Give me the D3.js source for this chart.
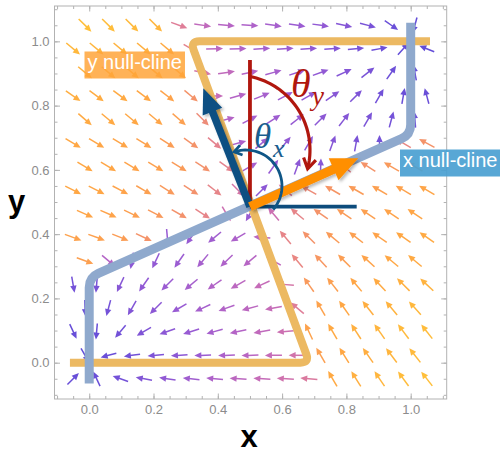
<!DOCTYPE html>
<html lang="en">
<head>
<meta charset="UTF-8">
<title>null-clines</title>
<script src="https://cdn.jsdelivr.net/npm/d3@7"></script>
<style>
  html, body { margin: 0; padding: 0; background: #fff; }
  svg { display: block; font-family: "Liberation Sans", Arial, sans-serif; }
</style>
</head>
<body>
<svg id="chart" width="500" height="454"></svg>
<script>
// arrow grid (staggered rows)
const rowY = [1.05, 0.977, 0.903, 0.830, 0.757, 0.683, 0.610, 0.537, 0.463, 0.390, 0.317, 0.243, 0.170, 0.097, 0.023, -0.050];
const xEven = [-0.013, 0.060, 0.133, 0.207, 0.280, 0.353, 0.427, 0.500, 0.573, 0.647, 0.720, 0.793, 0.867, 0.940, 1.013];
const xOdd = [-0.050, 0.023, 0.097, 0.170, 0.243, 0.317, 0.390, 0.463, 0.537, 0.610, 0.683, 0.757, 0.830, 0.903, 0.977, 1.050];

// arrow direction in degrees (0 = right, 90 = up), one row per rowY
const angleRows = [
  [-45,-45,-45,-45,-20,-8,-5,-3,-8,-8,-8,-12,-15,-35,-105],
  [-40,-40,-40,-40,-40,-30,2,2,3,3,3,4,6,10,48,158],
  [-40,-40,-40,-40,-40,-12,8,12,15,18,20,25,38,55,100],
  [-35,-37,-37,-37,-38,-40,0,15,22,28,30,35,45,60,80,105],
  [-41,-40,-40,-40,-41,-45,15,28,33,38,45,52,60,75,95],
  [-31,-31,-31,-32,-33,-35,-40,15,40,50,60,70,80,90,150,152],
  [-31,-31,-31,-31,-32,-33,-36,30,55,70,88,140,148,150,150],
  [-27,-27,-28,-30,-32,-33,-38,-45,45,140,150,150,150,150,150,150],
  [-24,-24,-26,-28,-30,-33,-60,-120,130,140,145,146,146,146,146],
  [-20,-20,-22,-25,-85,-125,-140,-150,175,130,135,140,142,145,145,145],
  [-20,-40,-100,-115,-125,-130,-136,-140,150,130,133,135,138,140,140],
  [-80,-95,-115,-125,-135,-140,-145,-150,-155,175,125,128,130,133,135,137],
  [-88,-105,-120,-135,-150,-155,-160,-165,-170,140,120,125,128,130,132],
  [-65,-95,-130,-150,-160,-163,-165,-168,-170,-175,115,120,123,125,127,128],
  [-60,-165,-172,-175,-177,-178,-178,-178,-179,180,120,122,125,127,128],
  [45,115,160,170,172,174,175,176,176,176,175,120,122,124,126,128]
];

// relative speed (0 = slow / purple, 1 = fast / yellow)
const normRows = [
  [1,0.99,0.97,0.95,0.62,0.5,0.46,0.43,0.4,0.36,0.32,0.27,0.22,0.12,0.06],
  [0.96,0.95,0.93,0.91,0.88,0.64,0.48,0.44,0.4,0.36,0.32,0.27,0.22,0.15,0.06,0.06],
  [0.93,0.92,0.9,0.88,0.84,0.58,0.5,0.45,0.4,0.36,0.32,0.27,0.22,0.14,0.08],
  [0.9,0.89,0.88,0.86,0.83,0.72,0.52,0.45,0.4,0.36,0.32,0.28,0.24,0.18,0.12,0.12],
  [0.88,0.87,0.86,0.84,0.8,0.68,0.45,0.4,0.37,0.34,0.3,0.27,0.23,0.2,0.16],
  [0.86,0.85,0.84,0.82,0.78,0.72,0.64,0.42,0.36,0.33,0.3,0.27,0.23,0.2,0.66,0.72],
  [0.86,0.85,0.83,0.81,0.77,0.71,0.64,0.4,0.34,0.3,0.28,0.64,0.72,0.76,0.8],
  [0.86,0.85,0.83,0.8,0.76,0.71,0.65,0.58,0.3,0.6,0.68,0.73,0.77,0.8,0.82,0.84],
  [0.84,0.83,0.8,0.76,0.71,0.65,0.55,0.35,0.55,0.65,0.72,0.77,0.8,0.83,0.85],
  [0.82,0.81,0.78,0.72,0.35,0.35,0.38,0.42,0.48,0.65,0.72,0.77,0.8,0.83,0.86,0.88],
  [0.8,0.45,0.3,0.33,0.36,0.4,0.43,0.46,0.5,0.66,0.74,0.79,0.83,0.86,0.88],
  [0.2,0.22,0.28,0.32,0.36,0.4,0.44,0.48,0.52,0.58,0.76,0.8,0.85,0.88,0.91,0.93],
  [0.12,0.2,0.26,0.3,0.35,0.4,0.44,0.48,0.52,0.62,0.82,0.86,0.9,0.93,0.96],
  [0.1,0.1,0.18,0.25,0.3,0.35,0.4,0.45,0.5,0.55,0.82,0.87,0.91,0.94,0.97,0.98],
  [0.05,0.12,0.18,0.24,0.3,0.36,0.42,0.47,0.52,0.57,0.8,0.86,0.9,0.94,0.97],
  [0.1,0.12,0.2,0.26,0.32,0.38,0.43,0.48,0.52,0.56,0.6,0.87,0.91,0.95,0.98,1.0]
];

// null-clines
const xNullcline = [[0, -0.065], [0, 0.265], [1, 0.71], [1, 1.058]];
const yNullcline = [[-0.06, 0], [0.685, 0], [0.315, 1], [1.06, 1]];

// annotation geometry (data units)
const origin = [0.5, 0.4855];
const redTop = 0.942;
const navyEnd = 0.832;
const blueTip = [0.3547, 0.8538];
const orangeTip = [0.837, 0.636];
const thetaXArc = {c: [0.4876, 0.5498], r: 0.112, a0: -41, a1: 106};
const thetaYArc = {c: [0.4533, 0.662], r: 0.2334, a0: 78, a1: -13};

const majorTicks = [0, 0.2, 0.4, 0.6, 0.8, 1.0];
const minorTicks = [-0.1, -0.05, 0, 0.05, 0.1, 0.15, 0.2, 0.25, 0.3, 0.35, 0.4, 0.45, 0.5, 0.55, 0.6, 0.65, 0.7, 0.75, 0.8, 0.85, 0.9, 0.95, 1.0, 1.05, 1.1];

const svg = d3.select("#chart");
const x = d3.scaleLinear().domain([-0.108, 1.112]).range([54.5, 446.7]);
const y = d3.scaleLinear().domain([-0.113, 1.11]).range([399, 6]);
const pxPerUnit = x(1) - x(0);

const color = d3.scaleLinear()
  .domain([0, 0.2, 0.35, 0.45, 0.55, 0.62, 0.7, 0.78, 0.86, 1])
  .range(["#5b4bd8", "#7452d8", "#985bd3", "#b464c6", "#cc70b2", "#df7e98", "#f2906f", "#fb9d55", "#ffa744", "#ffbf3a"]);

// frame + ticks
function tickAxis(axisFn, pos, vals, size, labels) {
  const a = axisFn.tickValues(vals).tickSize(size).tickPadding(6);
  if (!labels) a.tickFormat("");
  else a.tickFormat(d3.format(".1f"));
  const g = svg.append("g").attr("transform", pos).call(a);
  g.select(".domain").remove();
  g.selectAll("line").attr("stroke", "#b2b2b2");
  g.selectAll("text").attr("fill", "#8c8c8c").style("font-size", "13px")
    .style("font-family", "'Liberation Sans', Arial, sans-serif");
  return g;
}
tickAxis(d3.axisBottom(x), "translate(0,399)", minorTicks, -3, false);
tickAxis(d3.axisBottom(x), "translate(0,399)", majorTicks, -5.5, true);
tickAxis(d3.axisTop(x), "translate(0,6)", minorTicks, -3, false);
tickAxis(d3.axisTop(x), "translate(0,6)", majorTicks, -5.5, false);
tickAxis(d3.axisLeft(y), "translate(54.5,0)", minorTicks, -3, false);
tickAxis(d3.axisLeft(y), "translate(54.5,0)", majorTicks, -5.5, true)
  .selectAll("text").attr("x", -5);
tickAxis(d3.axisRight(y), "translate(446.7,0)", minorTicks, -3, false);
tickAxis(d3.axisRight(y), "translate(446.7,0)", majorTicks, -5.5, false);

svg.append("rect")
  .attr("x", 54.5).attr("y", 6)
  .attr("width", 446.7 - 54.5).attr("height", 399 - 6)
  .attr("fill", "none").attr("stroke", "#b2b2b2").attr("stroke-width", 1);

// vector field arrows
const arrows = [];
rowY.forEach((yv, j) => {
  const xs = j % 2 === 0 ? xEven : xOdd;
  xs.forEach((xv, k) => {
    arrows.push({x: xv, y: yv, a: angleRows[j][k], m: normRows[j][k]});
  });
});

const field = svg.append("g");
arrows.forEach(d => {
  const cx = x(d.x), cy = y(d.y);
  const t = d.a * Math.PI / 180;
  const ux = Math.cos(t), uy = -Math.sin(t);
  const L = 16 + 2 * d.m, h = 7, w = 3.2;
  const x0 = cx - ux * L / 2, y0 = cy - uy * L / 2;
  const x1 = cx + ux * L / 2, y1 = cy + uy * L / 2;
  const bx = x1 - ux * h, by = y1 - uy * h;
  const c = color(d.m);
  field.append("line")
    .attr("x1", x0).attr("y1", y0).attr("x2", bx + ux).attr("y2", by + uy)
    .attr("stroke", c).attr("stroke-width", 1.5);
  field.append("path")
    .attr("d", `M${x1},${y1}L${bx - uy * w},${by + ux * w}L${bx + uy * w},${by - ux * w}Z`)
    .attr("fill", c);
});

// polyline with softened corners
function roundedPath(pts, r) {
  const p = pts.map(d => [x(d[0]), y(d[1])]);
  let s = `M${p[0][0]},${p[0][1]}`;
  for (let i = 1; i < p.length - 1; i++) {
    const a = p[i - 1], c = p[i], b = p[i + 1];
    const la = Math.hypot(c[0] - a[0], c[1] - a[1]), lb = Math.hypot(b[0] - c[0], b[1] - c[1]);
    const s0 = [c[0] - (c[0] - a[0]) * r / la, c[1] - (c[1] - a[1]) * r / la];
    const s1 = [c[0] + (b[0] - c[0]) * r / lb, c[1] + (b[1] - c[1]) * r / lb];
    s += `L${s0[0]},${s0[1]}Q${c[0]},${c[1]} ${s1[0]},${s1[1]}`;
  }
  const e = p[p.length - 1];
  return s + `L${e[0]},${e[1]}`;
}

// null-cline curves
svg.append("path").attr("d", roundedPath(yNullcline, 9))
  .attr("fill", "none").attr("stroke", "#ecb962").attr("stroke-width", 8)
  .attr("stroke-linejoin", "round");
svg.append("path").attr("d", roundedPath(xNullcline, 10))
  .attr("fill", "none").attr("stroke", "#8fa9cd").attr("stroke-width", 9)
  .attr("stroke-linejoin", "round");

// drop shadow for the big arrows
const defs = svg.append("defs");
defs.append("filter").attr("id", "shadow").attr("x", "-30%").attr("y", "-30%")
  .attr("width", "160%").attr("height", "160%")
  .append("feDropShadow").attr("dx", 2).attr("dy", 2).attr("stdDeviation", 1.8)
  .attr("flood-color", "#000").attr("flood-opacity", 0.28);

// red vertical and navy horizontal reference lines
svg.append("line")
  .attr("x1", x(origin[0])).attr("y1", y(origin[1]))
  .attr("x2", x(origin[0])).attr("y2", y(redTop))
  .attr("stroke", "#b0170e").attr("stroke-width", 3.8);
svg.append("line")
  .attr("x1", x(origin[0])).attr("y1", y(origin[1]))
  .attr("x2", x(navyEnd)).attr("y2", y(origin[1]))
  .attr("stroke", "#0d4c7c").attr("stroke-width", 3.8);

function bigArrow(tip, col, shaft, headLen, headW) {
  const x0 = x(origin[0]), y0 = y(origin[1]);
  const x1 = x(tip[0]), y1 = y(tip[1]);
  const len = Math.hypot(x1 - x0, y1 - y0);
  const ux = (x1 - x0) / len, uy = (y1 - y0) / len;
  const bx = x1 - ux * headLen, by = y1 - uy * headLen;
  const g = svg.append("g").attr("filter", "url(#shadow)");
  g.append("line").attr("x1", x0).attr("y1", y0).attr("x2", bx + ux).attr("y2", by + uy)
    .attr("stroke", col).attr("stroke-width", shaft);
  g.append("path")
    .attr("d", `M${x1},${y1}L${bx - uy * headW / 2},${by + ux * headW / 2}L${bx + uy * headW / 2},${by - ux * headW / 2}Z`)
    .attr("fill", col);
}
bigArrow(blueTip, "#0c4f82", 7.5, 25, 21);
bigArrow(orangeTip, "#ff8f00", 9, 27, 24);

// angle arcs with arrow heads
function arcArrow(arc, col, width, headLen, headAng) {
  const cx = x(arc.c[0]), cy = y(arc.c[1]), r = arc.r * pxPerUnit;
  const n = 40;
  const pts = d3.range(n + 1).map(i => {
    const a = (arc.a0 + (arc.a1 - arc.a0) * i / n) * Math.PI / 180;
    return [cx + r * Math.cos(a), cy - r * Math.sin(a)];
  });
  svg.append("path").attr("d", d3.line()(pts))
    .attr("fill", "none").attr("stroke", col).attr("stroke-width", width);
  const e = pts[n], p = pts[n - 1];
  const dir = Math.atan2(e[1] - p[1], e[0] - p[0]);
  const tip = [e[0] + Math.cos(dir) * 2, e[1] + Math.sin(dir) * 2];
  const wing = s => [tip[0] - headLen * Math.cos(dir + s * headAng), tip[1] - headLen * Math.sin(dir + s * headAng)];
  svg.append("path").attr("d", d3.line()([wing(1), tip, wing(-1)]))
    .attr("fill", "none").attr("stroke", col).attr("stroke-width", width)
    .attr("stroke-linejoin", "miter");
}
arcArrow(thetaXArc, "#0f5686", 2.8, 9, 0.6);
arcArrow(thetaYArc, "#b0170e", 3.2, 12, 0.55);

// theta labels
const serif = "'Liberation Serif', 'Times New Roman', serif";
svg.append("text").attr("x", 291).attr("y", 97).text("θ")
  .attr("font-family", serif).attr("font-style", "italic").attr("font-size", 40).attr("fill", "#b0170e");
svg.append("text").attr("x", 312).attr("y", 105).text("y")
  .attr("font-family", serif).attr("font-style", "italic").attr("font-size", 27).attr("fill", "#b0170e");
svg.append("text").attr("x", 254).attr("y", 148).text("θ")
  .attr("font-family", serif).attr("font-style", "italic").attr("font-size", 35).attr("fill", "#1a5e8e");
svg.append("text").attr("x", 273).attr("y", 157).text("x")
  .attr("font-family", serif).attr("font-style", "italic").attr("font-size", 26).attr("fill", "#1a5e8e");

// null-cline labels
function tag(txt, tx, ty, bg, op) {
  const g = svg.append("g");
  const r = g.append("rect").attr("fill", bg).attr("opacity", op);
  const t = g.append("text").attr("x", tx).attr("y", ty).text(txt)
    .attr("fill", "#fff").attr("font-size", 20);
  const b = t.node().getBBox();
  r.attr("x", b.x - 3).attr("y", b.y + 1).attr("width", b.width + 6).attr("height", b.height + 5);
}
tag("y null-cline", 87.5, 68.5, "#ffa53a", 0.85);
tag("x null-cline", 403, 166.5, "#4a9fd1", 0.92);

// axis titles
svg.append("text").attr("x", 16.5).attr("y", 211.5).attr("text-anchor", "middle")
  .attr("font-size", 31).attr("font-weight", "bold").text("y");
svg.append("text").attr("x", 249).attr("y", 447).attr("text-anchor", "middle")
  .attr("font-size", 31).attr("font-weight", "bold").text("x");
</script>
</body>
</html>
